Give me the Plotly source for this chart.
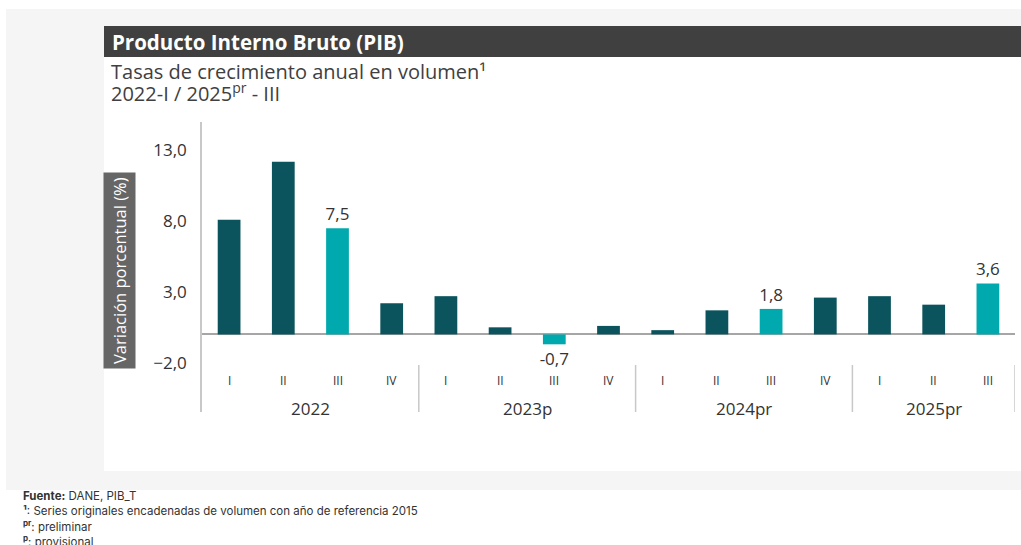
import plotly.graph_objects as go

# ---- data ----
quarters = ["I", "II", "III", "IV", "I", "II", "III", "IV", "I", "II", "III", "IV", "I", "II", "III"]
years = ["2022", "2023p", "2024pr", "2025pr"]
year_sizes = [4, 4, 4, 3]
values = [8.1, 12.2, 7.5, 2.2, 2.7, 0.5, -0.7, 0.6, 0.3, 1.7, 1.8, 2.6, 2.7, 2.1, 3.6]
highlight = [False, False, True, False, False, False, True, False, False, False, True, False, False, False, True]
y_ticks = [-2.0, 3.0, 8.0, 13.0]

DARK = "#0B545E"
LIGHT = "#00A9AE"
TXT = "#333333"

# pixel helpers for layout (plot area l=202, r=1015, t=122, b=412)
L, R, T, B = 202, 1015, 122, 412
def px(x):
    return (x - L) / (R - L)
def py(y):
    return (B - y) / (B - T)

xs = list(range(len(values)))
x_dark = [x for x, h in zip(xs, highlight) if not h]
y_dark = [v for v, h in zip(values, highlight) if not h]
x_light = [x for x, h in zip(xs, highlight) if h]
y_light = [v for v, h in zip(values, highlight) if h]

fig = go.Figure()
fig.add_trace(go.Bar(
    x=x_dark, y=y_dark, width=0.42,
    marker=dict(color=DARK, line=dict(width=0)),
    hoverinfo="skip",
))
fig.add_trace(go.Bar(
    x=x_light, y=y_light, width=0.42,
    marker=dict(color=LIGHT, line=dict(width=0)),
    texttemplate="%{y:.1f}", textposition="outside", cliponaxis=False, constraintext="none",
    textfont=dict(family="Open Sans", size=17, color=TXT),
    hoverinfo="skip",
))

shapes = []
# outer grey page, white panel, title bar
shapes.append(dict(type="rect", xref="paper", yref="paper", x0=px(6), x1=px(1030), y0=py(490), y1=py(9),
                   fillcolor="#F5F5F5", line=dict(width=0), layer="below"))
shapes.append(dict(type="rect", xref="paper", yref="paper", x0=px(104), x1=px(1030), y0=py(471), y1=py(57),
                   fillcolor="#FFFFFF", line=dict(width=0), layer="below"))
shapes.append(dict(type="rect", xref="paper", yref="paper", x0=px(104), x1=px(1030), y0=py(57), y1=py(26),
                   fillcolor="#404040", line=dict(width=0), layer="below"))

# group separators
start = 0
for s in year_sizes:
    start += s
    sx = start - 0.5
    shapes.append(dict(type="line", xref="x", yref="paper", x0=sx, x1=sx, y0=0, y1=py(365),
                       line=dict(color="#C8C8C8", width=1.5)))

annotations = []
# quarter labels
for i, q in enumerate(quarters):
    annotations.append(dict(x=i, y=py(380), xref="x", yref="paper", text=q, showarrow=False,
                            font=dict(family="Open Sans", size=12, color=TXT), yanchor="middle"))
# year labels
start = 0
for yname, s in zip(years, year_sizes):
    center = start + (s - 1) / 2
    annotations.append(dict(x=center, y=py(408), xref="x", yref="paper", text=yname, showarrow=False,
                            font=dict(family="Open Sans", size=17, color=TXT), yanchor="middle"))
    start += s

# titles
annotations.append(dict(x=px(110), y=py(42), xref="paper", yref="paper", xanchor="left", yanchor="middle",
                        text="<b>Producto Interno Bruto (PIB)</b>", showarrow=False,
                        font=dict(family="Open Sans", size=20.5, color="#FFFFFF")))
annotations.append(dict(x=px(109), y=py(71), xref="paper", yref="paper", xanchor="left", yanchor="middle",
                        text="Tasas de crecimiento anual en volumen¹", showarrow=False,
                        font=dict(family="Open Sans", size=20, color="#404040")))
annotations.append(dict(x=px(109), y=py(93), xref="paper", yref="paper", xanchor="left", yanchor="middle",
                        text="2022-I / 2025<sup>pr</sup> - III", showarrow=False,
                        font=dict(family="Open Sans", size=20, color="#404040")))
# y axis title box
annotations.append(dict(x=px(119), y=py(271), xref="paper", yref="paper", xanchor="center", yanchor="middle",
                        text="Variación porcentual (%)", textangle=-90, showarrow=False,
                        bgcolor="#666666", borderpad=4,
                        font=dict(family="Open Sans", size=16.5, color="#FFFFFF")))
# footnotes
foot = [
    "<b>Fuente:</b> DANE, PIB_T",
    "<b>¹</b>: Series originales encadenadas de volumen con año de referencia 2015",
    "<b><sup>pr</sup></b>: preliminar",
    "<b><sup>p</sup></b>: provisional",
]
for k, t in enumerate(foot):
    annotations.append(dict(x=px(21), y=py(496 + 15 * k), xref="paper", yref="paper", xanchor="left",
                            yanchor="middle", text=t, showarrow=False,
                            font=dict(family="Inter", size=11.5, color=TXT)))

fig.update_layout(
    width=1021, height=545,
    margin=dict(l=L, r=1021 - R, t=T, b=545 - B),
    paper_bgcolor="#FFFFFF", plot_bgcolor="rgba(0,0,0,0)",
    separators=",.",
    showlegend=False, barmode="overlay",
    shapes=shapes, annotations=annotations,
    xaxis=dict(range=[-0.5, len(values) - 0.5], showticklabels=False, showgrid=False, zeroline=False,
               showline=False, ticks="", fixedrange=True),
    yaxis=dict(range=[-5.48, 15.0], tickvals=y_ticks, tickformat=".1f", showgrid=False,
               zeroline=True, zerolinecolor="#A6A6A6", zerolinewidth=1.5,
               showline=True, linecolor="#C8C8C8", linewidth=1.5, ticks="",
               ticklabelstandoff=10,
               tickfont=dict(family="Open Sans", size=17, color=TXT)),
)

fig.write_html("out.html", config={"displayModeBar": False},
               post_script="document.body.style.margin='0';document.body.style.padding='0';")
